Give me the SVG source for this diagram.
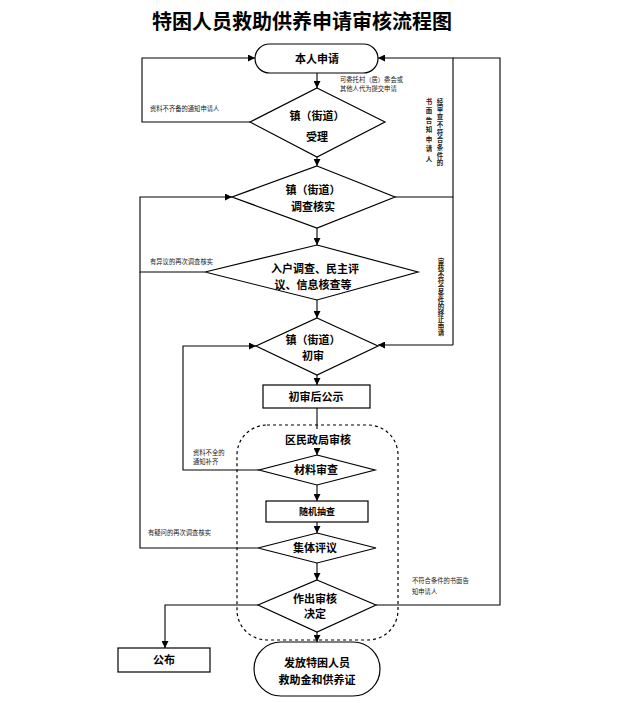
<svg xmlns="http://www.w3.org/2000/svg" width="622" height="703" viewBox="0 0 622 703">
<defs>
<marker id="ah" viewBox="0 0 10 10" refX="10" refY="5" markerWidth="7" markerHeight="7" orient="auto" markerUnits="userSpaceOnUse">
<path d="M0,0 L10,5 L0,10 z" fill="#000"/>
</marker>
<style>
.s{fill:#fff;stroke:#000;stroke-width:1.2}
.t{font-family:"Noto Sans CJK SC","Liberation Sans",sans-serif;font-weight:bold;font-size:11px;fill:#000;text-anchor:middle}
.h{font-family:"Noto Sans CJK SC","Liberation Sans",sans-serif;font-weight:bold;font-size:20px;fill:#000;text-anchor:middle}
.l{font-family:"Noto Sans CJK SC","Liberation Sans",sans-serif;font-size:6.3px;fill:#222}
.v{font-family:"Noto Sans CJK SC","Liberation Sans",sans-serif;font-size:6.5px;font-weight:bold;fill:#222;writing-mode:vertical-rl}
.c{fill:none;stroke:#000;stroke-width:1.1}
</style>
</defs>
<rect width="622" height="703" fill="#fff"/>
<text class="h" x="302" y="29">特困人员救助供养申请审核流程图</text>

<g id="region">
<rect x="237" y="425" width="161" height="215" rx="30" fill="none" stroke="#000" stroke-width="1.2" stroke-dasharray="3,3"/>
<text class="t" x="318" y="444">区民政局审核</text>
</g>

<g id="connectors">
<path class="c" d="M317,73 V88" marker-end="url(#ah)"/>
<path class="c" d="M317,157 V166" marker-end="url(#ah)"/>
<path class="c" d="M317,228 V245" marker-end="url(#ah)"/>
<path class="c" d="M317,300 V318" marker-end="url(#ah)"/>
<path class="c" d="M317,375 V385" marker-end="url(#ah)"/>
<path class="c" d="M317,408 V429"/>
<path class="c" d="M317,448 V455" marker-end="url(#ah)"/>
<path class="c" d="M317,485 V501" marker-end="url(#ah)"/>
<path class="c" d="M317,522 V533" marker-end="url(#ah)"/>
<path class="c" d="M317,563 V580" marker-end="url(#ah)"/>
<path class="c" d="M317,632 V642" marker-end="url(#ah)"/>
<path class="c" d="M250,122 H142 V58 H255" marker-end="url(#ah)"/>
<path class="c" d="M395,197 H453"/>
<path class="c" d="M453,345 V58 H378" marker-end="url(#ah)"/>
<path class="c" d="M453,345 H378" marker-end="url(#ah)"/>
<path class="c" d="M376,605 H500 V58 H453"/>
<path class="c" d="M205,272 H140 V197 H232" marker-end="url(#ah)"/>
<path class="c" d="M258,548 H140 V272"/>
<path class="c" d="M259,470 H183 V346 H256" marker-end="url(#ah)"/>
<path class="c" d="M258,605 H165 V648" marker-end="url(#ah)"/>
<text class="l" x="340" y="82">可委托村（居）委会或</text>
<text class="l" x="340" y="91">其他人代为提交申请</text>
<text class="l" x="150" y="111">资料不齐备的通知申请人</text>
<text class="l" x="150" y="264">有异议的再次调查核实</text>
<text class="l" x="193" y="455">资料不全的</text>
<text class="l" x="193" y="464">通知补齐</text>
<text class="l" x="148" y="535">有疑问的再次调查核实</text>
<text class="l" x="412" y="583">不符合条件的书面告</text>
<text class="l" x="412" y="594">知申请人</text>
<text class="v" x="440" y="98" style="letter-spacing:1.2px">经审查不符合条件的</text>
<text class="v" x="429" y="98" style="letter-spacing:3px">书面告知申请人</text>
<text class="v" x="441" y="258">审核不符合条件的终止申请</text>
</g>

<g id="start">
<rect class="s" x="255" y="44" width="123" height="29" rx="14.5"/>
<text class="t" x="317" y="63">本人申请</text>
</g>
<g id="accept">
<polygon class="s" points="317,88 385,122 317,157 250,122"/>
<text class="t" x="317" y="120">镇（街道）</text>
<text class="t" x="317" y="141">受理</text>
</g>
<g id="investigate">
<polygon class="s" points="317,166 395,197 317,228 232,197"/>
<text class="t" x="313" y="194">镇（街道）</text>
<text class="t" x="313" y="211">调查核实</text>
</g>
<g id="household">
<polygon class="s" points="317,245 418,272 317,300 205,272"/>
<text class="t" x="315" y="273">入户调查、民主评</text>
<text class="t" x="313" y="289">议、信息核查等</text>
</g>
<g id="prelim">
<polygon class="s" points="317,318 378,346 317,375 256,346"/>
<text class="t" x="313" y="344">镇（街道）</text>
<text class="t" x="313" y="360">初审</text>
</g>
<g id="publicity">
<rect class="s" x="263" y="385" width="107" height="23"/>
<text class="t" x="316" y="401">初审后公示</text>
</g>
<g id="material">
<polygon class="s" points="317,455 375,470 317,485 259,470"/>
<text class="t" x="316" y="474">材料审查</text>
</g>
<g id="spotcheck">
<rect class="s" x="266" y="501" width="102" height="21"/>
<text class="t" x="317" y="515" style="font-size:9px">随机抽查</text>
</g>
<g id="review">
<polygon class="s" points="317,533 376,548 317,563 258,548"/>
<text class="t" x="315" y="552">集体评议</text>
</g>
<g id="decision">
<polygon class="s" points="317,580 376,605 317,632 258,605"/>
<text class="t" x="315" y="603">作出审核</text>
<text class="t" x="315" y="618">决定</text>
</g>
<g id="publish">
<rect class="s" x="118" y="648" width="92" height="24"/>
<text class="t" x="164" y="664">公布</text>
</g>
<g id="issue">
<rect class="s" x="254" y="642" width="126" height="54" rx="27"/>
<text class="t" x="317" y="667">发放特困人员</text>
<text class="t" x="317" y="684">救助金和供养证</text>
</g>
</svg>
